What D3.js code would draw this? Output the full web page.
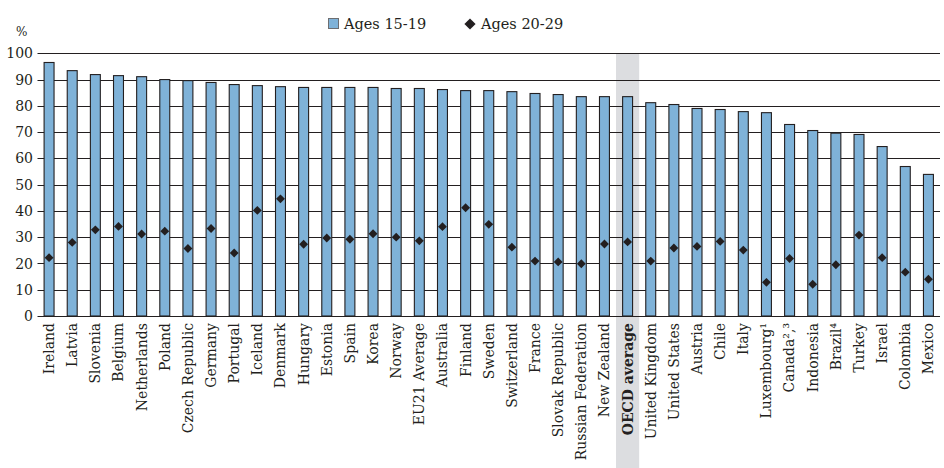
<!DOCTYPE html>
<html><head><meta charset="utf-8">
<script src="https://cdn.jsdelivr.net/npm/d3@7/dist/d3.min.js"></script>
<style>body{margin:0;background:#fff}svg{display:block}text{font-family:"DejaVu Serif",serif;fill:#231f20}</style>
</head><body><svg id="c" width="944" height="468"></svg>
<script>
const categories = ["Ireland","Latvia","Slovenia","Belgium","Netherlands","Poland","Czech Republic","Germany","Portugal","Iceland","Denmark","Hungary","Estonia","Spain","Korea","Norway","EU21 Average","Australia","Finland","Sweden","Switzerland","France","Slovak Republic","Russian Federation","New Zealand","OECD average","United Kingdom","United States","Austria","Chile","Italy","Luxembourg¹","Canada²,³","Indonesia","Brazil⁴","Turkey","Israel","Colombia","Mexico"];
const ages1519 = [96.5,93.4,91.9,91.5,91.1,90.0,89.6,88.9,88.1,87.7,87.3,87.0,87.0,87.0,87.0,86.6,86.6,86.2,85.8,85.8,85.4,84.7,84.3,83.5,83.5,83.5,81.2,80.5,79.0,78.6,77.8,77.4,72.9,70.6,69.6,69.1,64.5,56.9,53.9];
const ages2029 = [22.2,28.0,32.8,34.1,31.2,32.3,25.7,33.3,24.0,40.2,44.6,27.3,29.7,29.2,31.3,30.0,28.6,34.0,41.2,34.9,26.2,20.9,20.6,19.9,27.4,28.2,20.9,25.9,26.5,28.4,25.1,12.8,21.9,12.1,19.5,30.8,22.2,16.7,14.0];
const yTicks = [0,10,20,30,40,50,60,70,80,90,100];
const highlight = "OECD average";
const seriesNames = ["Ages 15-19","Ages 20-29"];

const svg = d3.select("#c");
const x = d3.scaleBand().domain(categories).range([37.5,940]).padding(0);
const y = d3.scaleLinear().domain([0,100]).range([316,53.3]);
const barW = x.bandwidth()*0.43;
const blue = "#7fb2d8", dark = "#231f20";

// highlight band
svg.append("rect").attr("x", x(highlight)).attr("y", y(100)).attr("width", x.bandwidth()).attr("height", 468-y(100)).attr("fill","#dcdde0");

// gridlines
svg.append("g").selectAll("line").data(yTicks).join("line")
  .attr("x1",37.5).attr("x2",940).attr("y1",d=>Math.round(y(d))+0.5).attr("y2",d=>Math.round(y(d))+0.5)
  .attr("stroke",dark).attr("stroke-width",1.2);

// y labels
svg.append("g").selectAll("text").data(yTicks).join("text")
  .attr("x",33).attr("y",d=>y(d)).attr("dy","0.36em").attr("text-anchor","end").attr("font-size",14).text(d=>d);
svg.append("text").attr("x",16).attr("y",36).attr("font-size",12).text("%");

// bars
svg.append("g").selectAll("rect").data(categories).join("rect")
  .attr("x",(d)=>x(d)+x.bandwidth()/2-barW/2).attr("width",barW)
  .attr("y",(d,i)=>y(ages1519[i])).attr("height",(d,i)=>y(0)-y(ages1519[i]))
  .attr("fill",blue).attr("stroke",dark).attr("stroke-width",1.1);

// diamonds
const diamond = d3.symbol().type(d3.symbolDiamond2).size(50);
svg.append("g").selectAll("path").data(categories).join("path")
  .attr("d",diamond).attr("transform",(d,i)=>`translate(${x(d)+x.bandwidth()/2},${y(ages2029[i])})`)
  .attr("fill",dark);

// x labels
svg.append("g").selectAll("text").data(categories).join("text")
  .attr("transform",d=>`translate(${x(d)+x.bandwidth()/2},323) rotate(-90)`)
  .attr("dy","0.35em").attr("text-anchor","end").attr("font-size",14)
  .attr("font-weight",d=>d===highlight?"bold":"normal").text(d=>d);

// legend
const lg = svg.append("g");
lg.append("rect").attr("x",328.5).attr("y",18.5).attr("width",10).attr("height",10).attr("fill",blue).attr("stroke","#6d6e71").attr("stroke-width",1);
lg.append("text").attr("x",344).attr("y",28.5).attr("font-size",14.5).text(seriesNames[0]);
lg.append("path").attr("d",d3.symbol().type(d3.symbolDiamond2).size(80)).attr("transform","translate(470,24)").attr("fill",dark);
lg.append("text").attr("x",481).attr("y",28.5).attr("font-size",14.5).text(seriesNames[1]);
</script></body></html>
